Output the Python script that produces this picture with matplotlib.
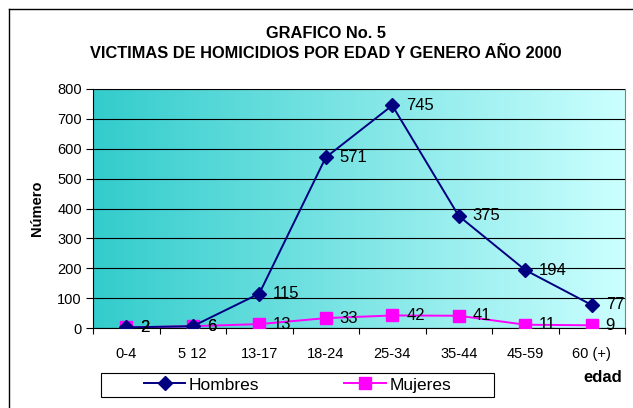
import numpy as np
import matplotlib
matplotlib.use('Agg')
import matplotlib.pyplot as plt
from matplotlib.colors import LinearSegmentedColormap
from matplotlib.lines import Line2D
from matplotlib.patches import Rectangle

plt.rcParams['font.family'] = ['Liberation Sans', 'DejaVu Sans']

edades = ['0-4', '5 12', '13-17', '18-24', '25-34', '35-44', '45-59', '60 (+)']
hombres = [2, 6, 115, 571, 745, 375, 194, 77]
mujeres = [2, 6, 13, 33, 42, 41, 11, 9]

W, H = 633, 408
fig = plt.figure(figsize=(W / 100, H / 100), dpi=100)

# outer chart frame (left and top visible)
fig.add_artist(Line2D([9 / W, 9 / W], [0, 1 - 9 / H], color='black', lw=1))
fig.add_artist(Line2D([9 / W, 1], [1 - 9 / H, 1 - 9 / H], color='black', lw=1))

ax = fig.add_axes([93 / W, (H - 328) / H, 532 / W, (328 - 89) / H])

# gradient background
cmap = LinearSegmentedColormap.from_list('bg', ['#33CCCC', '#CCFFFF'])
grad = np.linspace(0, 1, 256).reshape(1, -1)
ax.imshow(grad, cmap=cmap, aspect='auto', extent=[0, 1, 0, 1],
          transform=ax.transAxes, zorder=0)

x = np.arange(len(edades)) + 0.5
ax.plot(x, hombres, color='#000080', marker='D', markersize=7, lw=1.4,
        label='Hombres', zorder=4)
ax.plot(x, mujeres, color='#FF00FF', marker='s', markersize=9, lw=1.4,
        label='Mujeres', zorder=3)

for xi, v in zip(x, hombres):
    ax.annotate(str(v), (xi, v), xytext=(10, 0), textcoords='offset points',
                va='center', ha='left', fontsize=12, zorder=5)
for xi, v in zip(x, mujeres):
    ax.annotate(str(v), (xi, v), xytext=(10, 0), textcoords='offset points',
                va='center', ha='left', fontsize=12, zorder=5)

ax.set_xlim(0, len(edades))
ax.set_ylim(0, 800)
ax.set_yticks(range(0, 801, 100))
ax.yaxis.grid(True, color='black', lw=0.8)
ax.set_axisbelow(False)
for gl in ax.get_ygridlines():
    gl.set_zorder(1)

ax.set_xticks(np.arange(len(edades) + 1))
ax.set_xticklabels([])
ax.set_xticks(x, minor=True)
ax.set_xticklabels(edades, minor=True)
ax.tick_params(axis='x', which='minor', length=0, pad=14, labelsize=10.5)
ax.tick_params(axis='x', which='major', length=4, direction='out')
ax.tick_params(axis='y', length=5, direction='out', labelsize=10.5, pad=3)

ax.spines['top'].set_color('#808080')
ax.spines['right'].set_color('#808080')

fig.text(326 / W, 1 - 33 / H, 'GRAFICO No. 5', ha='center', va='center',
         fontsize=11.8, fontweight='bold')
fig.text(326 / W, 1 - 54 / H, 'VICTIMAS DE HOMICIDIOS POR EDAD Y GENERO AÑO 2000',
         ha='center', va='center', fontsize=11.8, fontweight='bold')
fig.text(37 / W, 1 - 208 / H, 'Número', rotation=90, ha='center', va='center',
         fontsize=10.5, fontweight='bold')
fig.text(603 / W, 1 - 378 / H, 'edad', ha='center', va='center',
         fontsize=12, fontweight='bold')

# legend frame
fig.add_artist(Rectangle((101 / W, (H - 397) / H), 393 / W, 24 / H,
                         transform=fig.transFigure, facecolor='white',
                         edgecolor='black', lw=0.8, zorder=1))
leg = fig.legend(loc='center', ncol=2,
                 bbox_to_anchor=(297.5 / W, 1 - 385 / H),
                 frameon=False, fontsize=12.5, handlelength=2.4,
                 handletextpad=0.2, columnspacing=4.9, borderpad=0)
leg.set_zorder(2)

fig.savefig('out.png', dpi=100)
